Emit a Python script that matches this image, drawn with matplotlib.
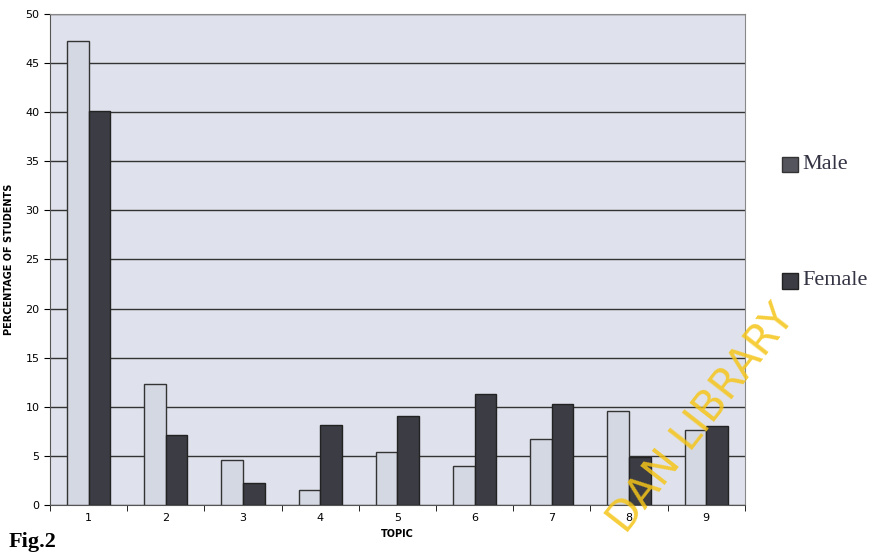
import numpy as np
import matplotlib.pyplot as plt

topics = [1, 2, 3, 4, 5, 6, 7, 8, 9]
male = [47.2, 12.3, 4.6, 1.5, 5.4, 4.0, 6.7, 9.6, 7.6]
female = [40.1, 7.1, 2.2, 8.1, 9.1, 11.3, 10.3, 4.9, 8.0]

fig = plt.figure(figsize=(8.91, 5.55), dpi=100)
ax = fig.add_axes([0.056, 0.09, 0.78, 0.885])
ax.set_facecolor('#dfe2ec')

x = np.arange(len(topics))
w = 0.28
ax.bar(x - w / 2, male, w, color='#d4d8e2', edgecolor='#333333', linewidth=1.0, zorder=3)
ax.bar(x + w / 2, female, w, color='#3c3c44', edgecolor='#222222', linewidth=1.0, zorder=3)

ax.set_ylim(0, 50)
ax.set_xlim(-0.5, len(topics) - 0.5)
ax.set_yticks(range(0, 51, 5))
ax.yaxis.grid(True, color='#333333', linewidth=1.0, zorder=1)
ax.set_xticks(x)
ax.set_xticklabels(topics, fontsize=8)
ax.set_xticks(np.arange(-0.5, len(topics)), minor=True)
ax.tick_params(axis='x', which='major', length=0, pad=6)
ax.tick_params(axis='x', which='minor', length=4, direction='out')
ax.tick_params(axis='y', labelsize=8, length=4)
for s in ['top', 'right']:
    ax.spines[s].set_color('#888888')
ax.spines['left'].set_color('#555555')
ax.spines['bottom'].set_color('#555555')

ax.set_ylabel('PERCENTAGE OF STUDENTS', fontsize=7, fontweight='bold', labelpad=8)
ax.set_xlabel('TOPIC', fontsize=7, fontweight='bold', labelpad=4)

# legend drawn as separate entries, far apart like the original
fig.patches.append(plt.Rectangle((0.878, 0.69), 0.018, 0.028, transform=fig.transFigure,
                                 facecolor='#55555d', edgecolor='#333333'))
fig.text(0.9, 0.704, 'Male', fontsize=16, family='Liberation Serif', va='center', color='#333344')
fig.patches.append(plt.Rectangle((0.878, 0.48), 0.018, 0.028, transform=fig.transFigure,
                                 facecolor='#3c3c44', edgecolor='#222222'))
fig.text(0.9, 0.494, 'Female', fontsize=16, family='Liberation Serif', va='center', color='#333344')

fig.text(0.01, 0.015, 'Fig.2', fontsize=16, fontweight='bold', family='Liberation Serif')

fig.text(0.787, 0.245, 'DAN LIBRARY', fontsize=30, color='#f5c518', alpha=0.85,
         rotation=52, ha='center', va='center', family='DejaVu Sans')

fig.savefig('out.png', dpi=100)
